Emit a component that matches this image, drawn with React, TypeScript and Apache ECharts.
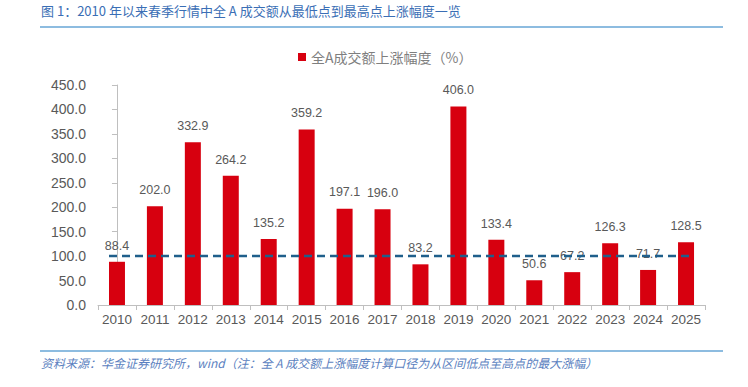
import React, { useEffect, useRef } from "react";
import * as echarts from "echarts";

const years = ["2010","2011","2012","2013","2014","2015","2016","2017","2018","2019","2020","2021","2022","2023","2024","2025"];
const gains = [88.4, 202.0, 332.9, 264.2, 135.2, 359.2, 197.1, 196.0, 83.2, 406.0, 133.4, 50.6, 67.2, 126.3, 71.7, 128.5];
const refLevel = 100;
const seriesName = "全A成交额上涨幅度（%）";
const titleText = "图 1：2010 年以来春季行情中全 A 成交额从最低点到最高点上涨幅度一览";
const sourceText = "资料来源：华金证券研究所，wind（注：全 A 成交额上涨幅度计算口径为从区间低点至高点的最大涨幅）";

export default function App() {
  const ref = useRef<HTMLDivElement>(null);
  useEffect(() => {
    const chart = echarts.init(ref.current!, null, { renderer: "svg" });
    const font = "Liberation Sans, Arial, Noto Sans CJK SC, sans-serif";
    const n = years.length;
    const halfBar = 0.21; // half bar width in category units
    chart.setOption({
      animation: false,
      textStyle: { fontFamily: font },
      grid: { left: 98, right: 43, top: 85, bottom: 82 },
      legend: {
        top: 45,
        left: 293,
        itemWidth: 8,
        itemHeight: 8,
        itemGap: 6,
        data: [{ name: seriesName, icon: "rect" }],
        textStyle: { color: "#7f7f7f", fontSize: 14, fontFamily: "Noto Sans CJK SC, sans-serif" },
      },
      xAxis: [
        {
          type: "category",
          data: years,
          axisLine: { lineStyle: { color: "#bfbfbf" } },
          axisTick: { show: true, alignWithLabel: false, interval: 0, length: 5, lineStyle: { color: "#bfbfbf" } },
          axisLabel: { color: "#595959", fontSize: 13.5, margin: 8, interval: 0 },
        },
        {
          type: "value",
          min: -0.5,
          max: n - 0.5,
          show: false,
        },
      ],
      yAxis: {
        type: "value",
        min: 0,
        max: 450,
        interval: 50,
        splitLine: { show: false },
        axisLine: { show: true, lineStyle: { color: "#bfbfbf" } },
        axisTick: { show: true, length: 5, lineStyle: { color: "#bfbfbf" } },
        axisLabel: { color: "#595959", fontSize: 14, margin: 12, formatter: (v: number) => v.toFixed(1) },
      },
      series: [
        {
          name: seriesName,
          type: "bar",
          data: gains,
          barWidth: 16,
          itemStyle: { color: "#D7000F" },
          label: {
            show: true,
            position: "top",
            distance: 10,
            color: "#595959",
            fontSize: 12.5,
            formatter: (p: any) => Number(p.value).toFixed(1),
          },
        },
        {
          name: "ref",
          type: "line",
          xAxisIndex: 1,
          data: [[0 - halfBar, refLevel], [n - 1 + halfBar, refLevel]],
          symbol: "none",
          lineStyle: { color: "#1F5F8B", width: 2.5, type: [8, 5] },
          z: 5,
        },
      ],
      graphic: [
        {
          type: "text",
          left: 41,
          top: 4,
          style: { text: titleText, fill: "#3A6EB5", fontSize: 13, fontFamily: "Noto Sans CJK SC, sans-serif" },
        },
        {
          type: "line",
          shape: { x1: 40, y1: 27, x2: 723, y2: 27 },
          style: { stroke: "#8DBCE0", lineWidth: 2 },
        },
        {
          type: "line",
          shape: { x1: 40, y1: 351, x2: 723, y2: 351 },
          style: { stroke: "#8DBCE0", lineWidth: 2 },
        },
        {
          type: "text",
          left: 41,
          top: 356,
          style: { text: sourceText, fill: "#5B7FC0", fontSize: 12, fontStyle: "italic", fontFamily: "Noto Sans CJK SC, sans-serif" },
        },
      ],
    });
    return () => chart.dispose();
  }, []);
  return <div ref={ref} style={{ width: 748, height: 387, position: "absolute", left: 0, top: 0, background: "#fff" }} />;
}
